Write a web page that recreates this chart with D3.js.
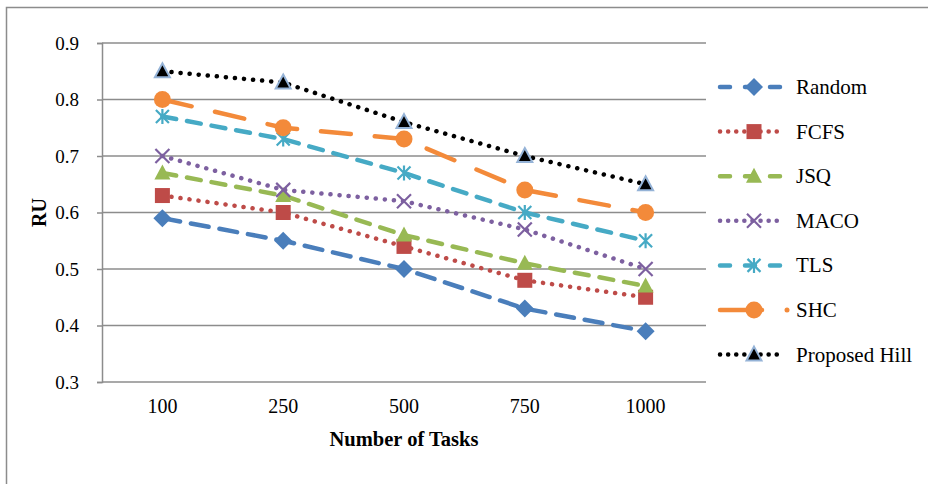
<!DOCTYPE html>
<html>
<head>
<meta charset="utf-8">
<script src="https://cdn.jsdelivr.net/npm/d3@7"></script>
<style>
  html, body { margin: 0; padding: 0; background: #fff; }
  svg { display: block; }
  svg text { font-family: "Liberation Serif", "Times New Roman", serif !important; fill: #000; }
</style>
</head>
<body>
<svg id="chart" width="928" height="484"></svg>
<script>
// Resource utilization by task count
const categories = ["100", "250", "500", "750", "1000"];
const seriesNames = ["Random", "FCFS", "JSQ", "MACO", "TLS", "SHC", "Proposed Hill"];
const random = [0.59, 0.55, 0.50, 0.43, 0.39];
const fcfs = [0.63, 0.60, 0.54, 0.48, 0.45];
const jsq = [0.67, 0.63, 0.56, 0.51, 0.47];
const maco = [0.70, 0.64, 0.62, 0.57, 0.50];
const tls = [0.77, 0.73, 0.67, 0.60, 0.55];
const shc = [0.80, 0.75, 0.73, 0.64, 0.60];
const proposedHill = [0.85, 0.83, 0.76, 0.70, 0.65];
const yTicks = [0.3, 0.4, 0.5, 0.6, 0.7, 0.8, 0.9];

const styles = [
  { color: "#4A7EBB", dash: "18 11", marker: "diamond" },
  { color: "#BE4B48", dash: "0.1 9", marker: "square" },
  { color: "#98B954", dash: "14 11", marker: "triangle" },
  { color: "#7D60A0", dash: "0.1 9", marker: "x" },
  { color: "#46AAC5", dash: "14 11", marker: "star" },
  { color: "#F38A3A", dash: "30 24", marker: "circle" },
  { color: "#000000", dash: "0.1 9", marker: "triBlack" }
];
const seriesValues = [random, fcfs, jsq, maco, tls, shc, proposedHill];
const series = seriesNames.map((name, i) => ({ name, values: seriesValues[i], style: styles[i] }));

const svg = d3.select("#chart");

// outer frame
svg.append("rect").attr("x", 6.5).attr("y", 7.5).attr("width", 940).attr("height", 500)
  .attr("fill", "none").attr("stroke", "#8c8c8c").attr("stroke-width", 1.5);

const plot = { left: 102, right: 706, top: 43, bottom: 382 };
const x = d3.scaleBand().domain(categories).range([plot.left, plot.right]);
const y = d3.scaleLinear().domain([0.3, 0.9]).range([plot.bottom, plot.top]);

// gridlines
svg.append("g").selectAll("line").data(yTicks).join("line")
  .attr("x1", plot.left).attr("x2", plot.right)
  .attr("y1", d => y(d)).attr("y2", d => y(d))
  .attr("stroke", "#8c8c8c").attr("stroke-width", 1.5);

// y axis
const yAxis = svg.append("g").attr("transform", `translate(${plot.left},0)`)
  .call(d3.axisLeft(y).tickValues(yTicks).tickFormat(d3.format(".1f")).tickSizeOuter(0).tickSize(5).tickPadding(18));
yAxis.attr("font-family", null);
yAxis.select(".domain").attr("stroke", "#8c8c8c").attr("stroke-width", 1.5);
yAxis.selectAll(".tick line").attr("stroke", "#8c8c8c").attr("stroke-width", 1.5);
yAxis.selectAll("text").attr("font-size", 19);

// x axis labels
const xAxis = svg.append("g").attr("transform", `translate(0,${plot.bottom})`)
  .call(d3.axisBottom(x).tickSize(0).tickPadding(17));
xAxis.attr("font-family", null);
xAxis.select(".domain").remove();
xAxis.selectAll("text").attr("font-size", 20);

// axis titles
svg.append("text").attr("x", (plot.left + plot.right) / 2).attr("y", 446)
  .attr("text-anchor", "middle").attr("font-weight", "bold").attr("font-size", 20.5)
  .text("Number of Tasks");
svg.append("text").attr("transform", `translate(46,${(plot.top + plot.bottom) / 2}) rotate(-90)`)
  .attr("text-anchor", "middle").attr("font-weight", "bold").attr("font-size", 20)
  .text("RU");

function drawMarker(g, type, color, cx, cy) {
  const m = g.append("g").attr("transform", `translate(${cx},${cy})`);
  if (type === "diamond") {
    m.append("path").attr("d", "M0,-9L9,0L0,9L-9,0Z").attr("fill", color);
  } else if (type === "square") {
    m.append("rect").attr("x", -7.5).attr("y", -7.5).attr("width", 15).attr("height", 15).attr("fill", color);
  } else if (type === "triangle") {
    m.append("path").attr("d", "M0,-8.5L8,6.5L-8,6.5Z").attr("fill", color);
  } else if (type === "x") {
    m.append("path").attr("d", "M-7,-7L7,7M-7,7L7,-7").attr("stroke", color).attr("stroke-width", 2.2);
  } else if (type === "star") {
    m.append("path").attr("d", "M-6.5,-6.5L6.5,6.5M-6.5,6.5L6.5,-6.5M0,-7.5L0,7.5").attr("stroke", color).attr("stroke-width", 2.2);
  } else if (type === "circle") {
    m.append("circle").attr("r", 8.5).attr("fill", color);
  } else if (type === "triBlack") {
    m.append("path").attr("d", "M0,-8L7.5,6L-7.5,6Z").attr("fill", "#000")
      .attr("stroke", "#95B3D7").attr("stroke-width", 2);
  }
}

const line = d3.line().x((d, i) => x(categories[i]) + x.bandwidth() / 2).y(d => y(d));

series.forEach(s => {
  svg.append("path").datum(s.values).attr("d", line)
    .attr("fill", "none").attr("stroke", s.style.color).attr("stroke-width", 4.5)
    .attr("stroke-dasharray", s.style.dash).attr("stroke-linecap", "round");
});
series.forEach(s => {
  const g = svg.append("g");
  s.values.forEach((v, i) => drawMarker(g, s.style.marker, s.style.color, x(categories[i]) + x.bandwidth() / 2, y(v)));
});

// legend
const legend = svg.append("g");
series.forEach((s, i) => {
  const ly = 87 + i * 44.6;
  const g = legend.append("g");
  if (s.style.marker === "circle") {
    g.append("line").attr("x1", 720).attr("x2", 762).attr("y1", ly).attr("y2", ly)
      .attr("stroke", s.style.color).attr("stroke-width", 4.5).attr("stroke-linecap", "round");
    g.append("circle").attr("cx", 787).attr("cy", ly).attr("r", 2.5).attr("fill", s.style.color);
  } else {
    g.append("line").attr("x1", 720).attr("x2", 784).attr("y1", ly).attr("y2", ly)
      .attr("stroke", s.style.color).attr("stroke-width", 4.5).attr("stroke-linecap", "round")
      .attr("stroke-dasharray", s.style.dash.startsWith("0.1") ? "0.1 8" : "10 15");
  }
  drawMarker(g, s.style.marker, s.style.color, 754, ly);
  g.append("text").attr("x", 796).attr("y", ly).attr("dy", "0.33em")
    .attr("font-size", 21).text(s.name);
});
</script>
</body>
</html>
